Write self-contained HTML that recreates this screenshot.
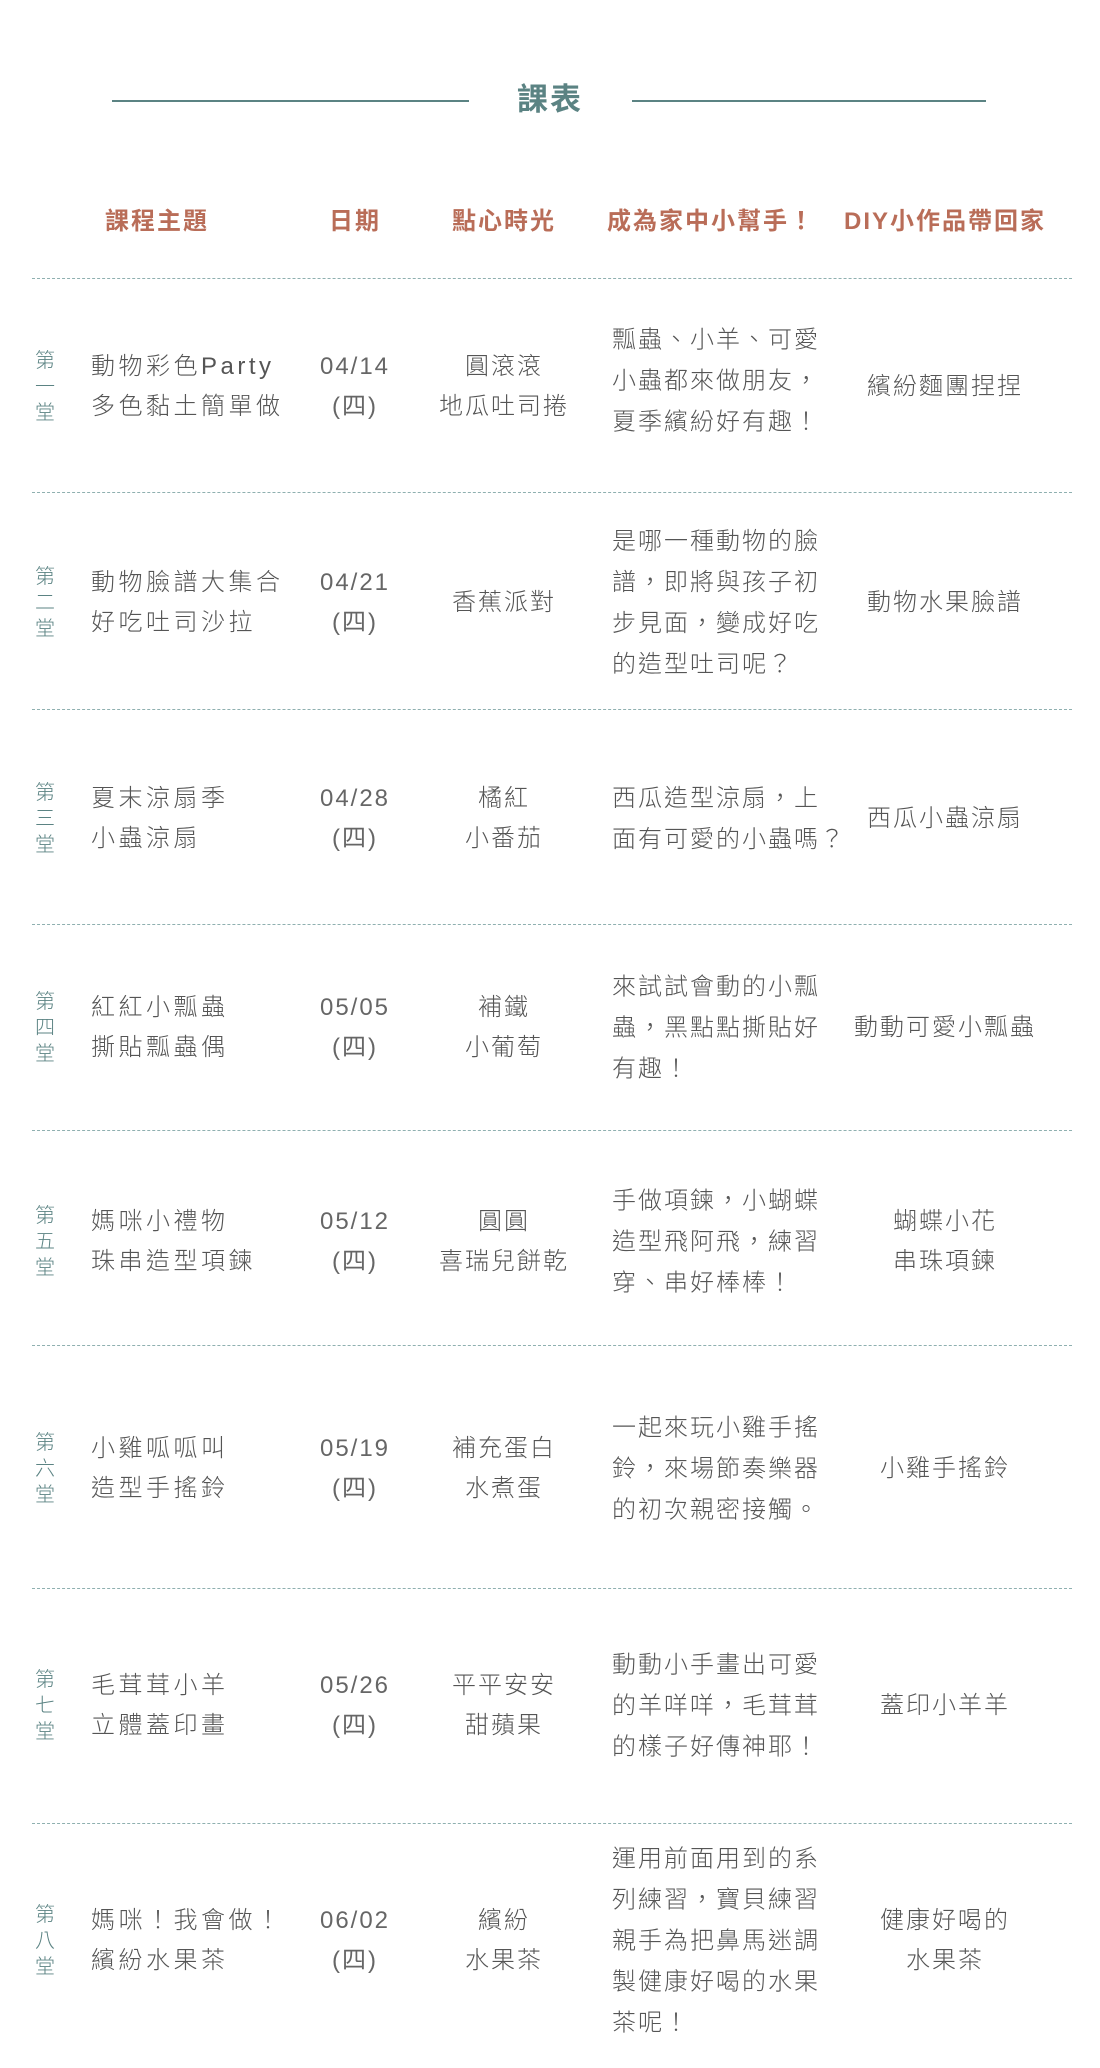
<!DOCTYPE html>
<html><head><meta charset="utf-8"><style>
body{margin:0;width:1100px;height:2068px;background:#fff;position:relative;overflow:hidden;font-family:"Liberation Sans","Noto Sans CJK TC",sans-serif;color:#555;}
.a{position:absolute;}
.title{left:0;width:1100px;top:74px;text-align:center;font-size:31px;font-weight:bold;color:#5b8383;letter-spacing:2px;}
.hl{height:2px;background:#5b8383;top:100px;}
.h{top:201px;font-size:24px;font-weight:bold;color:#b96d58;transform:translateX(-50%);white-space:nowrap;letter-spacing:2px;}
.dl{left:32px;width:1040px;border-top:1.5px dashed #8fb0b0;height:0;}
.row{position:absolute;left:0;width:1100px;}
.c{position:absolute;transform:translateY(-50%);font-size:24px;line-height:40px;white-space:nowrap;font-weight:300;}
.side{left:33px;width:24px;font-size:20px;line-height:26px;color:#5b8383;text-align:center;}
.c1{left:91px;letter-spacing:3.5px;}
.c2{left:305px;width:100px;text-align:center;letter-spacing:2px;font-weight:normal;color:#666;}
.c3{left:434px;width:140px;text-align:center;letter-spacing:2px;}
.c4{left:612px;letter-spacing:2px;line-height:41px;}
.c5{left:845px;width:200px;text-align:center;letter-spacing:2px;}
</style></head><body>
<div class="a title">課表</div>
<div class="a hl" style="left:112px;width:357px"></div>
<div class="a hl" style="left:632px;width:354px"></div>
<div class="a h" style="left:157px">課程主題</div>
<div class="a h" style="left:355px">日期</div>
<div class="a h" style="left:504px">點心時光</div>
<div class="a h" style="left:711px">成為家中小幫手！</div>
<div class="a h" style="left:945px">DIY小作品帶回家</div>

<div class="a dl" style="top:278px"></div>
<div class="a dl" style="top:492px"></div>
<div class="a dl" style="top:709px"></div>
<div class="a dl" style="top:924px"></div>
<div class="a dl" style="top:1130px"></div>
<div class="a dl" style="top:1345px"></div>
<div class="a dl" style="top:1588px"></div>
<div class="a dl" style="top:1823px"></div>

<div class="row" style="top:387px">
<div class="c side">第<br>一<br>堂</div>
<div class="c c1">動物彩色Party<br>多色黏土簡單做</div>
<div class="c c2">04/14<br>(四)</div>
<div class="c c3">圓滾滾<br>地瓜吐司捲</div>
<div class="c c4" style="margin-top:-6px">瓢蟲、小羊、可愛<br>小蟲都來做朋友，<br>夏季繽紛好有趣！</div>
<div class="c c5">繽紛麵團捏捏</div>
</div>

<div class="row" style="top:603px">
<div class="c side">第<br>二<br>堂</div>
<div class="c c1">動物臉譜大集合<br>好吃吐司沙拉</div>
<div class="c c2">04/21<br>(四)</div>
<div class="c c3">香蕉派對</div>
<div class="c c4">是哪一種動物的臉<br>譜，即將與孩子初<br>步見面，變成好吃<br>的造型吐司呢？</div>
<div class="c c5">動物水果臉譜</div>
</div>

<div class="row" style="top:819px">
<div class="c side">第<br>三<br>堂</div>
<div class="c c1">夏末涼扇季<br>小蟲涼扇</div>
<div class="c c2">04/28<br>(四)</div>
<div class="c c3">橘紅<br>小番茄</div>
<div class="c c4">西瓜造型涼扇，上<br>面有可愛的小蟲嗎？</div>
<div class="c c5">西瓜小蟲涼扇</div>
</div>

<div class="row" style="top:1028px">
<div class="c side">第<br>四<br>堂</div>
<div class="c c1">紅紅小瓢蟲<br>撕貼瓢蟲偶</div>
<div class="c c2">05/05<br>(四)</div>
<div class="c c3">補鐵<br>小葡萄</div>
<div class="c c4">來試試會動的小瓢<br>蟲，黑點點撕貼好<br>有趣！</div>
<div class="c c5">動動可愛小瓢蟲</div>
</div>

<div class="row" style="top:1242px">
<div class="c side">第<br>五<br>堂</div>
<div class="c c1">媽咪小禮物<br>珠串造型項鍊</div>
<div class="c c2">05/12<br>(四)</div>
<div class="c c3">圓圓<br>喜瑞兒餅乾</div>
<div class="c c4">手做項鍊，小蝴蝶<br>造型飛阿飛，練習<br>穿、串好棒棒！</div>
<div class="c c5">蝴蝶小花<br>串珠項鍊</div>
</div>

<div class="row" style="top:1469px">
<div class="c side">第<br>六<br>堂</div>
<div class="c c1">小雞呱呱叫<br>造型手搖鈴</div>
<div class="c c2">05/19<br>(四)</div>
<div class="c c3">補充蛋白<br>水煮蛋</div>
<div class="c c4">一起來玩小雞手搖<br>鈴，來場節奏樂器<br>的初次親密接觸。</div>
<div class="c c5">小雞手搖鈴</div>
</div>

<div class="row" style="top:1706px">
<div class="c side">第<br>七<br>堂</div>
<div class="c c1">毛茸茸小羊<br>立體蓋印畫</div>
<div class="c c2">05/26<br>(四)</div>
<div class="c c3">平平安安<br>甜蘋果</div>
<div class="c c4">動動小手畫出可愛<br>的羊咩咩，毛茸茸<br>的樣子好傳神耶！</div>
<div class="c c5">蓋印小羊羊</div>
</div>

<div class="row" style="top:1941px">
<div class="c side">第<br>八<br>堂</div>
<div class="c c1">媽咪！我會做！<br>繽紛水果茶</div>
<div class="c c2">06/02<br>(四)</div>
<div class="c c3">繽紛<br>水果茶</div>
<div class="c c4">運用前面用到的系<br>列練習，寶貝練習<br>親手為把鼻馬迷調<br>製健康好喝的水果<br>茶呢！</div>
<div class="c c5">健康好喝的<br>水果茶</div>
</div>
</body></html>
